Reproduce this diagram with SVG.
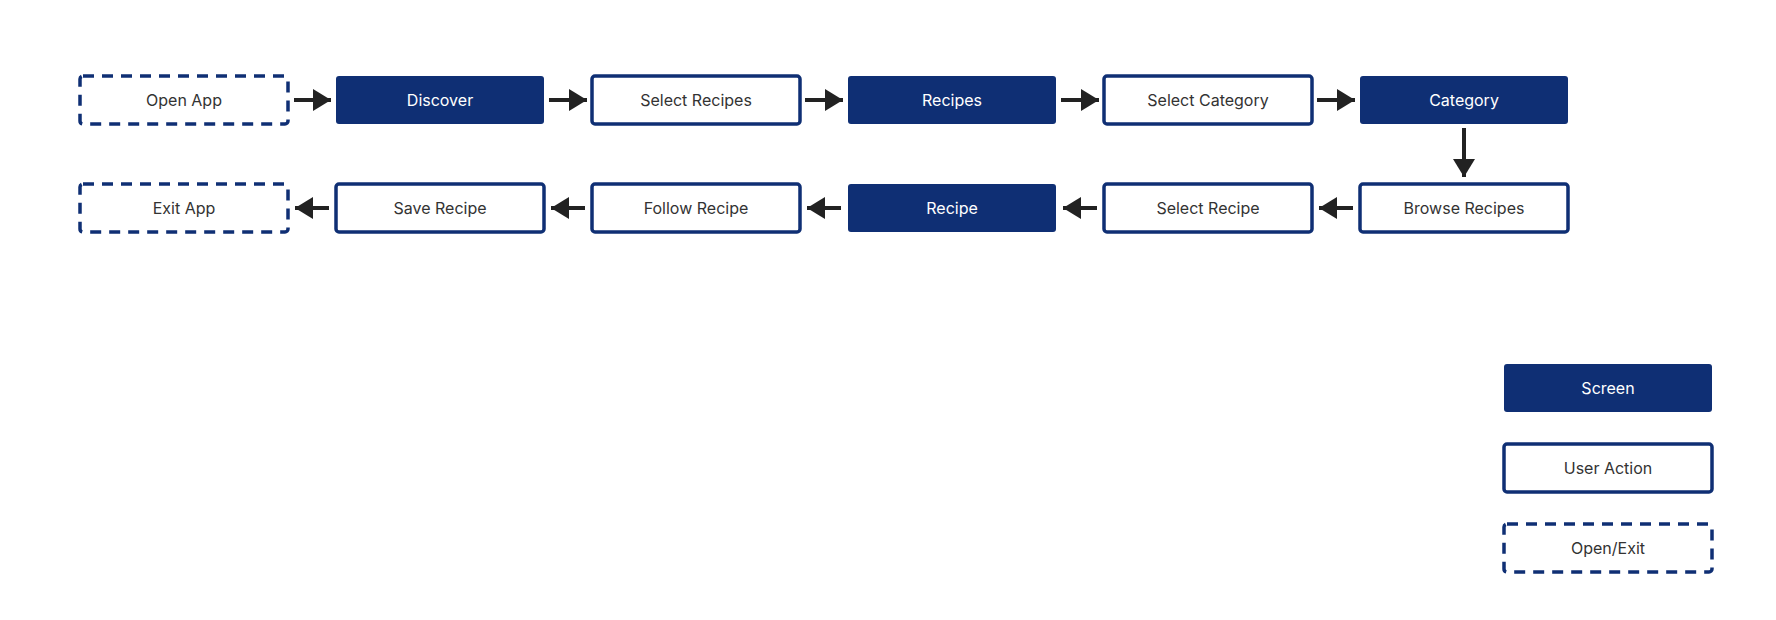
<svg xmlns="http://www.w3.org/2000/svg" width="1776" height="620" viewBox="0 0 1776 620">
<style>
.screen{fill:#0f2f74;}
.action{fill:#fff;stroke:#0f2f74;stroke-width:3.5;}
.open{fill:#fff;stroke:#0f2f74;stroke-width:3.5;stroke-dasharray:11 8;}
.t{font-family:Inter,"Noto Sans",sans-serif;font-size:16px;text-anchor:middle;dominant-baseline:central;}
.tw{fill:#fff;}
.td{fill:#333;}
.c{stroke:#222;stroke-width:4;fill:none;marker-end:url(#ah);}
</style>
<defs>
<marker id="ah" markerUnits="userSpaceOnUse" markerWidth="20" markerHeight="22" refX="18" refY="11" orient="auto">
<path d="M0,0 L18,11 L0,22 Z" fill="#222"/>
</marker>
</defs>
<rect width="1776" height="620" fill="#fff"/>
<g id="n-open-app"><rect class="open" x="80" y="76" width="208" height="48" rx="3"/><text class="t td" x="184" y="100">Open App</text></g>
<g id="n-discover"><rect class="screen" x="336" y="76" width="208" height="48" rx="3"/><text class="t tw" x="440" y="100">Discover</text></g>
<g id="n-select-recipes"><rect class="action" x="592" y="76" width="208" height="48" rx="3"/><text class="t td" x="696" y="100">Select Recipes</text></g>
<g id="n-recipes"><rect class="screen" x="848" y="76" width="208" height="48" rx="3"/><text class="t tw" x="952" y="100">Recipes</text></g>
<g id="n-select-category"><rect class="action" x="1104" y="76" width="208" height="48" rx="3"/><text class="t td" x="1208" y="100">Select Category</text></g>
<g id="n-category"><rect class="screen" x="1360" y="76" width="208" height="48" rx="3"/><text class="t tw" x="1464" y="100">Category</text></g>
<g id="n-browse-recipes"><rect class="action" x="1360" y="184" width="208" height="48" rx="3"/><text class="t td" x="1464" y="208">Browse Recipes</text></g>
<g id="n-select-recipe"><rect class="action" x="1104" y="184" width="208" height="48" rx="3"/><text class="t td" x="1208" y="208">Select Recipe</text></g>
<g id="n-recipe"><rect class="screen" x="848" y="184" width="208" height="48" rx="3"/><text class="t tw" x="952" y="208">Recipe</text></g>
<g id="n-follow-recipe"><rect class="action" x="592" y="184" width="208" height="48" rx="3"/><text class="t td" x="696" y="208">Follow Recipe</text></g>
<g id="n-save-recipe"><rect class="action" x="336" y="184" width="208" height="48" rx="3"/><text class="t td" x="440" y="208">Save Recipe</text></g>
<g id="n-exit-app"><rect class="open" x="80" y="184" width="208" height="48" rx="3"/><text class="t td" x="184" y="208">Exit App</text></g>
<g id="legend-screen"><rect class="screen" x="1504" y="364" width="208" height="48" rx="3"/><text class="t tw" x="1608" y="388">Screen</text></g>
<g id="legend-action"><rect class="action" x="1504" y="444" width="208" height="48" rx="3"/><text class="t td" x="1608" y="468">User Action</text></g>
<g id="legend-open"><rect class="open" x="1504" y="524" width="208" height="48" rx="3"/><text class="t td" x="1608" y="548">Open/Exit</text></g>
<g id="connectors">
<path class="c" d="M294,100 H331"/>
<path class="c" d="M549,100 H587"/>
<path class="c" d="M805,100 H843"/>
<path class="c" d="M1061,100 H1099"/>
<path class="c" d="M1317,100 H1355"/>
<path class="c" d="M1464,128 V177"/>
<path class="c" d="M1353,208 H1319"/>
<path class="c" d="M1097,208 H1063"/>
<path class="c" d="M841,208 H807"/>
<path class="c" d="M585,208 H551"/>
<path class="c" d="M329,208 H295"/>
</g>
</svg>
